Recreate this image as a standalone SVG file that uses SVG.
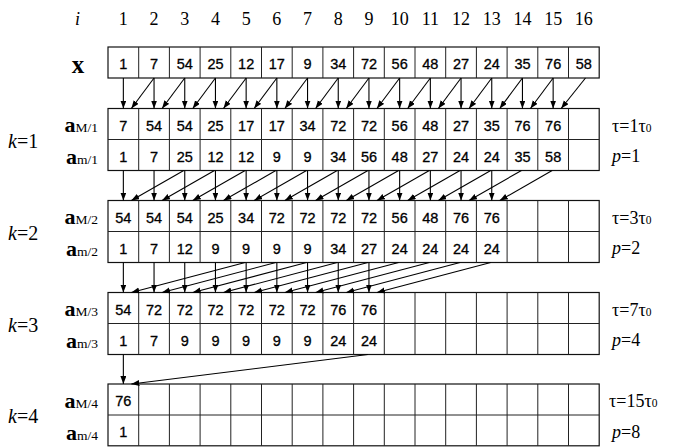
<svg xmlns="http://www.w3.org/2000/svg" width="674" height="447" viewBox="0 0 674 447">
<style>
.bg{fill:#fff}
.tbl{fill:#fff;stroke:#111;stroke-width:1.2}
.div{fill:none;stroke:#222;stroke-width:1}
.cell{font-family:"Liberation Sans",Arial,sans-serif;font-size:14.5px;fill:#000;stroke:#000;stroke-width:0.3;text-anchor:middle}
.hdr{font-family:"Liberation Serif","Times New Roman",serif;font-size:18px;fill:#000;text-anchor:middle}
.ser{font-family:"Liberation Serif","Times New Roman",serif;fill:#000}
.lab{font-family:"Liberation Serif","Times New Roman",serif;font-size:22px;font-weight:bold;fill:#000;text-anchor:end}
.sub{font-size:13.5px;font-weight:normal}
.kl{font-family:"Liberation Serif","Times New Roman",serif;font-size:20px;fill:#000}
.rl{font-family:"Liberation Serif","Times New Roman",serif;font-size:18px;fill:#000}
.z{font-size:11.5px}
.arr{stroke:#000;stroke-width:1.1;fill:none;marker-end:url(#ah)}
</style>
<defs>
<marker id="ah" markerUnits="userSpaceOnUse" markerWidth="9" markerHeight="7" refX="8" refY="3" orient="auto">
<path d="M0,0 L8,3 L0,6 z" fill="#000"/>
</marker>
</defs>
<rect class="bg" x="0" y="0" width="674" height="447"/>

<g id="header">
<text class="ser" x="77.5" y="25" font-size="18" font-style="italic" text-anchor="middle">i</text>
<text class="hdr" x="123.35" y="25">1</text>
<text class="hdr" x="154.05" y="25">2</text>
<text class="hdr" x="184.75" y="25">3</text>
<text class="hdr" x="215.45" y="25">4</text>
<text class="hdr" x="246.15" y="25">5</text>
<text class="hdr" x="276.85" y="25">6</text>
<text class="hdr" x="307.55" y="25">7</text>
<text class="hdr" x="338.25" y="25">8</text>
<text class="hdr" x="368.95" y="25">9</text>
<text class="hdr" x="399.65" y="25">10</text>
<text class="hdr" x="430.35" y="25">11</text>
<text class="hdr" x="461.05" y="25">12</text>
<text class="hdr" x="491.75" y="25">13</text>
<text class="hdr" x="522.45" y="25">14</text>
<text class="hdr" x="553.15" y="25">15</text>
<text class="hdr" x="583.85" y="25">16</text>
</g>

<g id="row-x">
<text class="ser" x="78" y="73" font-size="25" font-weight="bold" text-anchor="middle">x</text>
<rect class="tbl" x="108" y="47" width="491.2" height="31"/>
<path class="div" d="M138.7 47V78M169.4 47V78M200.1 47V78M230.8 47V78M261.5 47V78M292.2 47V78M322.9 47V78M353.6 47V78M384.3 47V78M415 47V78M445.7 47V78M476.4 47V78M507.1 47V78M537.8 47V78M568.5 47V78"/>
<text class="cell" x="123.35" y="69">1</text>
<text class="cell" x="154.05" y="69">7</text>
<text class="cell" x="184.75" y="69">54</text>
<text class="cell" x="215.45" y="69">25</text>
<text class="cell" x="246.15" y="69">12</text>
<text class="cell" x="276.85" y="69">17</text>
<text class="cell" x="307.55" y="69">9</text>
<text class="cell" x="338.25" y="69">34</text>
<text class="cell" x="368.95" y="69">72</text>
<text class="cell" x="399.65" y="69">56</text>
<text class="cell" x="430.35" y="69">48</text>
<text class="cell" x="461.05" y="69">27</text>
<text class="cell" x="491.75" y="69">24</text>
<text class="cell" x="522.45" y="69">35</text>
<text class="cell" x="553.15" y="69">76</text>
<text class="cell" x="583.85" y="69">58</text>
</g>

<g id="stage-k1">
<text class="kl" x="8" y="148"><tspan font-style="italic">k</tspan>=1</text>
<text class="lab" x="98" y="132">a<tspan class="sub">M/1</tspan></text>
<text class="lab" x="98" y="164">a<tspan class="sub">m/1</tspan></text>
<rect class="tbl" x="108" y="108.5" width="491.2" height="62"/>
<path class="div" d="M108 139.5H599.2M138.7 108.5V170.5M169.4 108.5V170.5M200.1 108.5V170.5M230.8 108.5V170.5M261.5 108.5V170.5M292.2 108.5V170.5M322.9 108.5V170.5M353.6 108.5V170.5M384.3 108.5V170.5M415 108.5V170.5M445.7 108.5V170.5M476.4 108.5V170.5M507.1 108.5V170.5M537.8 108.5V170.5M568.5 108.5V170.5"/>
<g>
<text class="cell" x="123.35" y="130.5">7</text>
<text class="cell" x="154.05" y="130.5">54</text>
<text class="cell" x="184.75" y="130.5">54</text>
<text class="cell" x="215.45" y="130.5">25</text>
<text class="cell" x="246.15" y="130.5">17</text>
<text class="cell" x="276.85" y="130.5">17</text>
<text class="cell" x="307.55" y="130.5">34</text>
<text class="cell" x="338.25" y="130.5">72</text>
<text class="cell" x="368.95" y="130.5">72</text>
<text class="cell" x="399.65" y="130.5">56</text>
<text class="cell" x="430.35" y="130.5">48</text>
<text class="cell" x="461.05" y="130.5">27</text>
<text class="cell" x="491.75" y="130.5">35</text>
<text class="cell" x="522.45" y="130.5">76</text>
<text class="cell" x="553.15" y="130.5">76</text>
</g>
<g>
<text class="cell" x="123.35" y="161.5">1</text>
<text class="cell" x="154.05" y="161.5">7</text>
<text class="cell" x="184.75" y="161.5">25</text>
<text class="cell" x="215.45" y="161.5">12</text>
<text class="cell" x="246.15" y="161.5">12</text>
<text class="cell" x="276.85" y="161.5">9</text>
<text class="cell" x="307.55" y="161.5">9</text>
<text class="cell" x="338.25" y="161.5">34</text>
<text class="cell" x="368.95" y="161.5">56</text>
<text class="cell" x="399.65" y="161.5">48</text>
<text class="cell" x="430.35" y="161.5">27</text>
<text class="cell" x="461.05" y="161.5">24</text>
<text class="cell" x="491.75" y="161.5">24</text>
<text class="cell" x="522.45" y="161.5">35</text>
<text class="cell" x="553.15" y="161.5">58</text>
</g>
<text class="rl" x="612" y="131.5">τ=1τ<tspan class="z">0</tspan></text>
<text class="rl" x="612" y="162"><tspan font-style="italic">p</tspan>=1</text>
</g>

<g id="stage-k2">
<text class="kl" x="8" y="240"><tspan font-style="italic">k</tspan>=2</text>
<text class="lab" x="98" y="224">a<tspan class="sub">M/2</tspan></text>
<text class="lab" x="98" y="256">a<tspan class="sub">m/2</tspan></text>
<rect class="tbl" x="108" y="200.5" width="491.2" height="62"/>
<path class="div" d="M108 231.5H599.2M138.7 200.5V262.5M169.4 200.5V262.5M200.1 200.5V262.5M230.8 200.5V262.5M261.5 200.5V262.5M292.2 200.5V262.5M322.9 200.5V262.5M353.6 200.5V262.5M384.3 200.5V262.5M415 200.5V262.5M445.7 200.5V262.5M476.4 200.5V262.5M507.1 200.5V262.5M537.8 200.5V262.5M568.5 200.5V262.5"/>
<g>
<text class="cell" x="123.35" y="222.5">54</text>
<text class="cell" x="154.05" y="222.5">54</text>
<text class="cell" x="184.75" y="222.5">54</text>
<text class="cell" x="215.45" y="222.5">25</text>
<text class="cell" x="246.15" y="222.5">34</text>
<text class="cell" x="276.85" y="222.5">72</text>
<text class="cell" x="307.55" y="222.5">72</text>
<text class="cell" x="338.25" y="222.5">72</text>
<text class="cell" x="368.95" y="222.5">72</text>
<text class="cell" x="399.65" y="222.5">56</text>
<text class="cell" x="430.35" y="222.5">48</text>
<text class="cell" x="461.05" y="222.5">76</text>
<text class="cell" x="491.75" y="222.5">76</text>
</g>
<g>
<text class="cell" x="123.35" y="253.5">1</text>
<text class="cell" x="154.05" y="253.5">7</text>
<text class="cell" x="184.75" y="253.5">12</text>
<text class="cell" x="215.45" y="253.5">9</text>
<text class="cell" x="246.15" y="253.5">9</text>
<text class="cell" x="276.85" y="253.5">9</text>
<text class="cell" x="307.55" y="253.5">9</text>
<text class="cell" x="338.25" y="253.5">34</text>
<text class="cell" x="368.95" y="253.5">27</text>
<text class="cell" x="399.65" y="253.5">24</text>
<text class="cell" x="430.35" y="253.5">24</text>
<text class="cell" x="461.05" y="253.5">24</text>
<text class="cell" x="491.75" y="253.5">24</text>
</g>
<text class="rl" x="612" y="223.5">τ=3τ<tspan class="z">0</tspan></text>
<text class="rl" x="612" y="254"><tspan font-style="italic">p</tspan>=2</text>
</g>

<g id="stage-k3">
<text class="kl" x="8" y="332"><tspan font-style="italic">k</tspan>=3</text>
<text class="lab" x="98" y="316">a<tspan class="sub">M/3</tspan></text>
<text class="lab" x="98" y="348">a<tspan class="sub">m/3</tspan></text>
<rect class="tbl" x="108" y="292.5" width="491.2" height="62"/>
<path class="div" d="M108 323.5H599.2M138.7 292.5V354.5M169.4 292.5V354.5M200.1 292.5V354.5M230.8 292.5V354.5M261.5 292.5V354.5M292.2 292.5V354.5M322.9 292.5V354.5M353.6 292.5V354.5M384.3 292.5V354.5M415 292.5V354.5M445.7 292.5V354.5M476.4 292.5V354.5M507.1 292.5V354.5M537.8 292.5V354.5M568.5 292.5V354.5"/>
<g>
<text class="cell" x="123.35" y="314.5">54</text>
<text class="cell" x="154.05" y="314.5">72</text>
<text class="cell" x="184.75" y="314.5">72</text>
<text class="cell" x="215.45" y="314.5">72</text>
<text class="cell" x="246.15" y="314.5">72</text>
<text class="cell" x="276.85" y="314.5">72</text>
<text class="cell" x="307.55" y="314.5">72</text>
<text class="cell" x="338.25" y="314.5">76</text>
<text class="cell" x="368.95" y="314.5">76</text>
</g>
<g>
<text class="cell" x="123.35" y="345.5">1</text>
<text class="cell" x="154.05" y="345.5">7</text>
<text class="cell" x="184.75" y="345.5">9</text>
<text class="cell" x="215.45" y="345.5">9</text>
<text class="cell" x="246.15" y="345.5">9</text>
<text class="cell" x="276.85" y="345.5">9</text>
<text class="cell" x="307.55" y="345.5">9</text>
<text class="cell" x="338.25" y="345.5">24</text>
<text class="cell" x="368.95" y="345.5">24</text>
</g>
<text class="rl" x="612" y="315.5">τ=7τ<tspan class="z">0</tspan></text>
<text class="rl" x="612" y="346"><tspan font-style="italic">p</tspan>=4</text>
</g>

<g id="stage-k4">
<text class="kl" x="8" y="423"><tspan font-style="italic">k</tspan>=4</text>
<text class="lab" x="98" y="407.5">a<tspan class="sub">M/4</tspan></text>
<text class="lab" x="98" y="439.5">a<tspan class="sub">m/4</tspan></text>
<rect class="tbl" x="108" y="384" width="491.2" height="61.8"/>
<path class="div" d="M108 415H599.2M138.7 384V445.8M169.4 384V445.8M200.1 384V445.8M230.8 384V445.8M261.5 384V445.8M292.2 384V445.8M322.9 384V445.8M353.6 384V445.8M384.3 384V445.8M415 384V445.8M445.7 384V445.8M476.4 384V445.8M507.1 384V445.8M537.8 384V445.8M568.5 384V445.8"/>
<text class="cell" x="123.35" y="406">76</text>
<text class="cell" x="123.35" y="437">1</text>
<text class="rl" x="609" y="407">τ=15τ<tspan class="z">0</tspan></text>
<text class="rl" x="612" y="437.5"><tspan font-style="italic">p</tspan>=8</text>
</g>

<g id="connectors">
<g id="arrows-x-k1">
<line class="arr" x1="123.35" y1="78" x2="123.35" y2="108.5"/>
<line class="arr" x1="154.05" y1="78" x2="154.05" y2="108.5"/>
<line class="arr" x1="184.75" y1="78" x2="184.75" y2="108.5"/>
<line class="arr" x1="215.45" y1="78" x2="215.45" y2="108.5"/>
<line class="arr" x1="246.15" y1="78" x2="246.15" y2="108.5"/>
<line class="arr" x1="276.85" y1="78" x2="276.85" y2="108.5"/>
<line class="arr" x1="307.55" y1="78" x2="307.55" y2="108.5"/>
<line class="arr" x1="338.25" y1="78" x2="338.25" y2="108.5"/>
<line class="arr" x1="368.95" y1="78" x2="368.95" y2="108.5"/>
<line class="arr" x1="399.65" y1="78" x2="399.65" y2="108.5"/>
<line class="arr" x1="430.35" y1="78" x2="430.35" y2="108.5"/>
<line class="arr" x1="461.05" y1="78" x2="461.05" y2="108.5"/>
<line class="arr" x1="491.75" y1="78" x2="491.75" y2="108.5"/>
<line class="arr" x1="522.45" y1="78" x2="522.45" y2="108.5"/>
<line class="arr" x1="553.15" y1="78" x2="553.15" y2="108.5"/>
<line class="arr" x1="154.05" y1="78" x2="131.35" y2="108.5"/>
<line class="arr" x1="184.75" y1="78" x2="162.05" y2="108.5"/>
<line class="arr" x1="215.45" y1="78" x2="192.75" y2="108.5"/>
<line class="arr" x1="246.15" y1="78" x2="223.45" y2="108.5"/>
<line class="arr" x1="276.85" y1="78" x2="254.15" y2="108.5"/>
<line class="arr" x1="307.55" y1="78" x2="284.85" y2="108.5"/>
<line class="arr" x1="338.25" y1="78" x2="315.55" y2="108.5"/>
<line class="arr" x1="368.95" y1="78" x2="346.25" y2="108.5"/>
<line class="arr" x1="399.65" y1="78" x2="376.95" y2="108.5"/>
<line class="arr" x1="430.35" y1="78" x2="407.65" y2="108.5"/>
<line class="arr" x1="461.05" y1="78" x2="438.35" y2="108.5"/>
<line class="arr" x1="491.75" y1="78" x2="469.05" y2="108.5"/>
<line class="arr" x1="522.45" y1="78" x2="499.75" y2="108.5"/>
<line class="arr" x1="553.15" y1="78" x2="530.45" y2="108.5"/>
<line class="arr" x1="585.5" y1="78" x2="561.15" y2="108.5"/>
</g>
<g id="arrows-k1-k2">
<line class="arr" x1="123.35" y1="170.5" x2="123.35" y2="200.5"/>
<line class="arr" x1="154.05" y1="170.5" x2="154.05" y2="200.5"/>
<line class="arr" x1="184.75" y1="170.5" x2="184.75" y2="200.5"/>
<line class="arr" x1="215.45" y1="170.5" x2="215.45" y2="200.5"/>
<line class="arr" x1="246.15" y1="170.5" x2="246.15" y2="200.5"/>
<line class="arr" x1="276.85" y1="170.5" x2="276.85" y2="200.5"/>
<line class="arr" x1="307.55" y1="170.5" x2="307.55" y2="200.5"/>
<line class="arr" x1="338.25" y1="170.5" x2="338.25" y2="200.5"/>
<line class="arr" x1="368.95" y1="170.5" x2="368.95" y2="200.5"/>
<line class="arr" x1="399.65" y1="170.5" x2="399.65" y2="200.5"/>
<line class="arr" x1="430.35" y1="170.5" x2="430.35" y2="200.5"/>
<line class="arr" x1="461.05" y1="170.5" x2="461.05" y2="200.5"/>
<line class="arr" x1="491.75" y1="170.5" x2="491.75" y2="200.5"/>
<line class="arr" x1="183.75" y1="170.5" x2="131.35" y2="200.5"/>
<line class="arr" x1="214.45" y1="170.5" x2="162.05" y2="200.5"/>
<line class="arr" x1="245.15" y1="170.5" x2="192.75" y2="200.5"/>
<line class="arr" x1="275.85" y1="170.5" x2="223.45" y2="200.5"/>
<line class="arr" x1="306.55" y1="170.5" x2="254.15" y2="200.5"/>
<line class="arr" x1="337.25" y1="170.5" x2="284.85" y2="200.5"/>
<line class="arr" x1="367.95" y1="170.5" x2="315.55" y2="200.5"/>
<line class="arr" x1="398.65" y1="170.5" x2="346.25" y2="200.5"/>
<line class="arr" x1="429.35" y1="170.5" x2="376.95" y2="200.5"/>
<line class="arr" x1="460.05" y1="170.5" x2="407.65" y2="200.5"/>
<line class="arr" x1="490.75" y1="170.5" x2="438.35" y2="200.5"/>
<line class="arr" x1="521.45" y1="170.5" x2="469.05" y2="200.5"/>
<line class="arr" x1="552.15" y1="170.5" x2="499.75" y2="200.5"/>
</g>
<g id="arrows-k2-k3">
<line class="arr" x1="123.35" y1="262.5" x2="123.35" y2="292.5"/>
<line class="arr" x1="154.05" y1="262.5" x2="154.05" y2="292.5"/>
<line class="arr" x1="184.75" y1="262.5" x2="184.75" y2="292.5"/>
<line class="arr" x1="215.45" y1="262.5" x2="215.45" y2="292.5"/>
<line class="arr" x1="246.15" y1="262.5" x2="246.15" y2="292.5"/>
<line class="arr" x1="276.85" y1="262.5" x2="276.85" y2="292.5"/>
<line class="arr" x1="307.55" y1="262.5" x2="307.55" y2="292.5"/>
<line class="arr" x1="338.25" y1="262.5" x2="338.25" y2="292.5"/>
<line class="arr" x1="368.95" y1="262.5" x2="368.95" y2="292.5"/>
<line class="arr" x1="245.15" y1="262.5" x2="131.35" y2="292.5"/>
<line class="arr" x1="275.85" y1="262.5" x2="162.05" y2="292.5"/>
<line class="arr" x1="306.55" y1="262.5" x2="192.75" y2="292.5"/>
<line class="arr" x1="337.25" y1="262.5" x2="223.45" y2="292.5"/>
<line class="arr" x1="367.95" y1="262.5" x2="254.15" y2="292.5"/>
<line class="arr" x1="398.65" y1="262.5" x2="284.85" y2="292.5"/>
<line class="arr" x1="429.35" y1="262.5" x2="315.55" y2="292.5"/>
<line class="arr" x1="460.05" y1="262.5" x2="346.25" y2="292.5"/>
<line class="arr" x1="490.75" y1="262.5" x2="376.95" y2="292.5"/>
</g>
<g id="arrows-k3-k4">
<line class="arr" x1="123.35" y1="354.5" x2="123.35" y2="384"/>
<line class="arr" x1="367.95" y1="354.5" x2="131.35" y2="384"/>
</g>
</g>
</svg>
